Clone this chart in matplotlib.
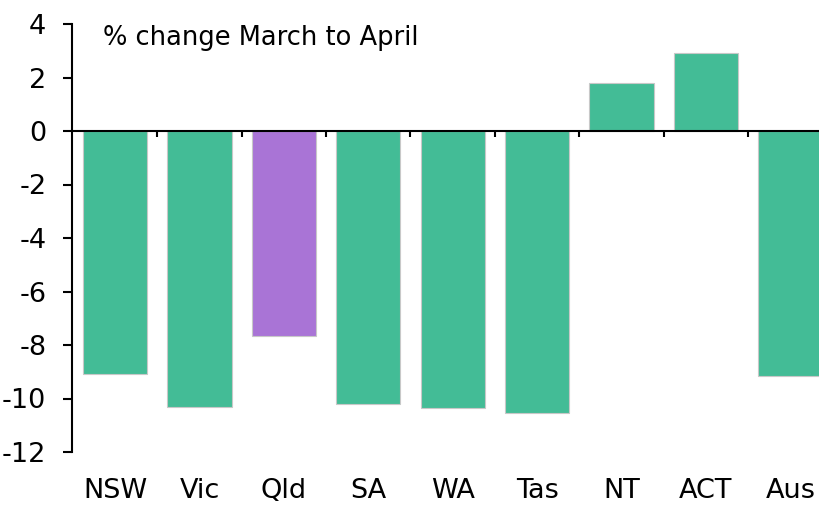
import matplotlib
matplotlib.use("Agg")
import matplotlib.pyplot as plt
import numpy as np

# % change March to April, by state
states = ["NSW", "Vic", "Qld", "SA", "WA", "Tas", "NT", "ACT", "Aus"]
change = [-9.1, -10.3, -7.65, -10.2, -10.35, -10.55, 1.8, 2.9, -9.15]
highlight = "Qld"

green = "#43bc96"
purple = "#a974d6"
colors = [purple if s == highlight else green for s in states]

plt.rcParams["font.family"] = ["DejaVu Sans"]
plt.rcParams["axes.unicode_minus"] = False

fig = plt.figure(figsize=(8.19, 5.07), dpi=100)
ax = fig.add_axes([72 / 819, 55 / 507, 747 / 819, 428 / 507])

x = np.arange(len(states))
ax.bar(x, change, width=0.76, color=colors, edgecolor="#c8c8c8", linewidth=0.8, zorder=2)

ax.set_xlim(-0.51, 8.34)
ax.set_ylim(-12, 4)
ax.set_yticks(np.arange(-12, 5, 2))
ax.tick_params(axis="y", length=6.5, width=1.5, pad=12, labelsize=19.5, direction="out")

# zero line with short ticks between categories
for side in ["top", "right"]:
    ax.spines[side].set_visible(False)
ax.spines["left"].set_linewidth(1.5)
ax.spines["bottom"].set_position(("data", 0))
ax.spines["bottom"].set_linewidth(1.5)
ax.spines["bottom"].set_zorder(3)
ax.set_xticks(x[:-1] + 0.5)
ax.set_xticklabels([])
ax.tick_params(axis="x", length=4, width=1.5, direction="out")

sec = ax.secondary_xaxis(0)
sec.set_xticks(x, labels=states)
sec.tick_params(length=0, labelsize=19.5, pad=19)
sec.spines["bottom"].set_visible(False)

ax.text(0.041, 0.967, "% change March to April", transform=ax.transAxes,
        fontsize=18.5, va="center", ha="left")

fig.savefig("out.png", dpi=100)
